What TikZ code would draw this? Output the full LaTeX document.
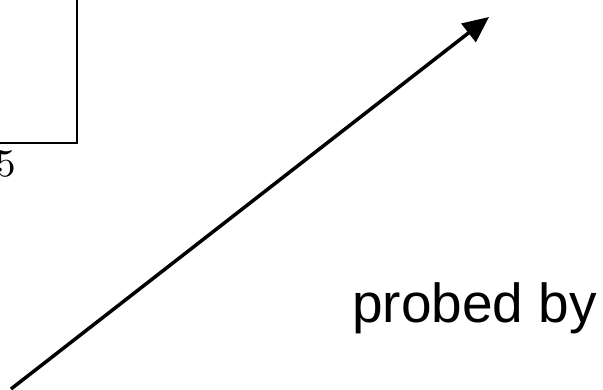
\documentclass[tikz,border=0pt]{standalone}
\usepackage{fontspec}
\newfontfamily\helv{Liberation Sans}
\newfontfamily\lmten{lmroman10-regular.otf}
\usetikzlibrary{arrows.meta}
\begin{document}
\begin{tikzpicture}[x=1pt,y=1pt,
  boxline/.style={line width=2pt},
  arrowline/.style={line width=3.5pt,-{Triangle[length=26pt,width=23pt]}},
  lbl/.style={inner sep=0pt,anchor=base west}]
\useasboundingbox (0,0) rectangle (603,390);
\clip (0,0) rectangle (603,390);
\draw[boxline] (-20,247) -- (77,247) -- (77,400);
\node[inner sep=0pt,anchor=base east,font=\lmten\fontsize{39}{39}\selectfont] (five) at (16,213) {5};
\coordinate (from) at (11,1);
\coordinate (to) at (489,373);
\draw[arrowline] (from) -- (to);
\node[lbl,font=\helv\fontsize{55}{55}\selectfont] (probed) at (352,67) {probed by};
\end{tikzpicture}
\end{document}
